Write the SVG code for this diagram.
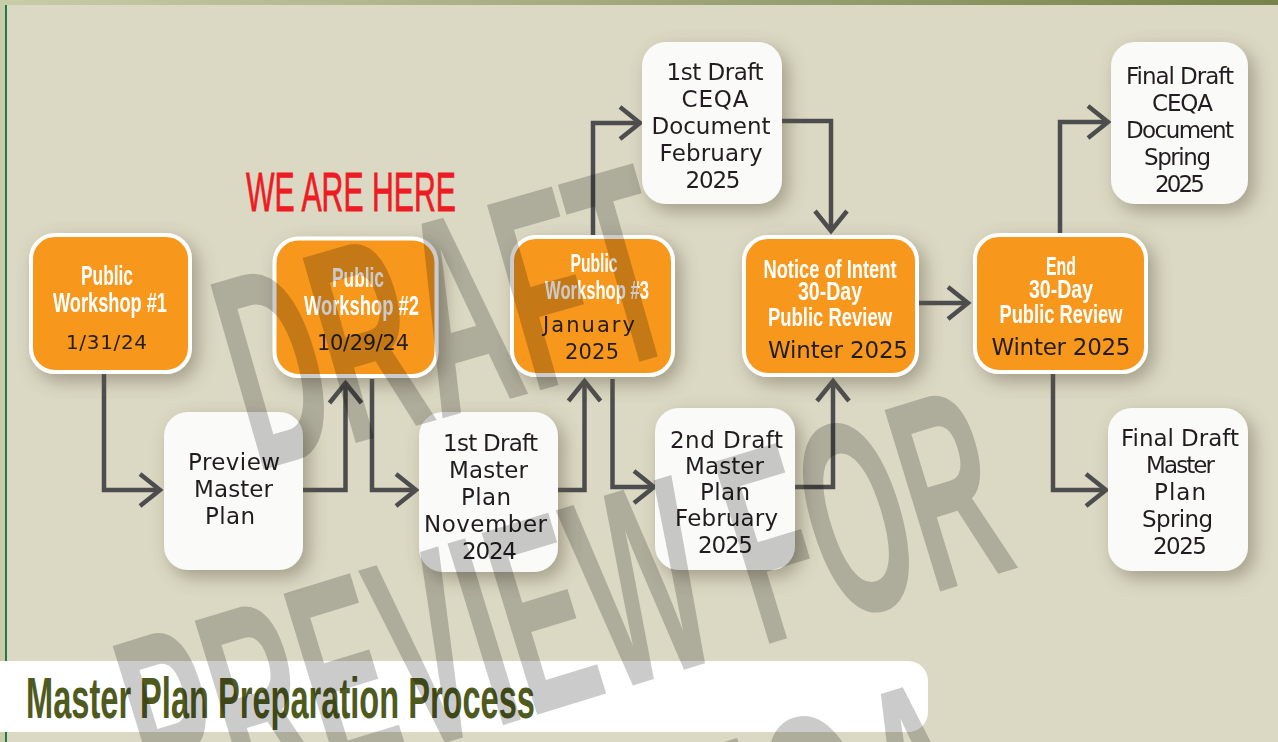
<svg xmlns="http://www.w3.org/2000/svg" width="1278" height="742" viewBox="0 0 1278 742">
<defs>
<linearGradient id="topbar" x1="0" y1="0" x2="1" y2="0">
<stop offset="0" stop-color="#c9cca9"/>
<stop offset="1" stop-color="#77834b"/>
</linearGradient>
<filter id="sh" x="-30%" y="-30%" width="160%" height="160%">
<feGaussianBlur in="SourceAlpha" stdDeviation="9"/>
<feOffset dx="6" dy="7" result="b"/>
<feFlood flood-color="#5c563f" flood-opacity="0.45"/>
<feComposite in2="b" operator="in"/>
<feMerge><feMergeNode/><feMergeNode in="SourceGraphic"/></feMerge>
</filter>
<marker id="arr" markerUnits="userSpaceOnUse" viewBox="-26 -22 32 44" refX="0" refY="0" markerWidth="32" markerHeight="44" orient="auto">
<path d="M-20,-16 L0,0 L-20,16" fill="none" stroke="#4d4d4f" stroke-width="4.5"/>
</marker>
<style>
.or{fill:#f7981f;stroke:#fff;stroke-width:4}
.wh{fill:#fafaf8}
.wt{font-family:"Liberation Sans Narrow","Liberation Sans",sans-serif;font-weight:bold;fill:#fff;text-anchor:middle}
.dk{font-family:"DejaVu Sans","Liberation Sans",sans-serif;fill:#231f20;text-anchor:middle}
.cn{fill:none;stroke:#4d4d4f;stroke-width:4.5;marker-end:url(#arr)}
.wm{font-family:"Liberation Sans Narrow","Liberation Sans",sans-serif;font-weight:bold;fill:#000}
</style>
</defs>
<rect x="0" y="0" width="1278" height="742" fill="#dbd8c3"/>
<rect x="0" y="0" width="1278" height="5" fill="url(#topbar)"/>
<rect x="0" y="5" width="5" height="737" fill="#cacca9"/>
<rect x="5" y="5" width="2" height="737" fill="#1e7a46"/>

<g id="connectors">
<path class="cn" d="M104,374 V490 H160"/>
<path class="cn" d="M303,490 H345.5 V383"/>
<path class="cn" d="M372,379 V490 H416"/>
<path class="cn" d="M558,490 H584.5 V381"/>
<path class="cn" d="M593,236 V123 H640"/>
<path class="cn" d="M612.5,379 V487 H654"/>
<path class="cn" d="M782,121 H831 V231"/>
<path class="cn" d="M795,487 H833 V381"/>
<path class="cn" d="M919,303 H968"/>
<path class="cn" d="M1060,234 V122 H1108"/>
<path class="cn" d="M1053,374 V490 H1106"/>
</g>

<g id="we-are-here">
<text x="246" y="211" font-family="'Liberation Sans Narrow','Liberation Sans',sans-serif" font-size="55" fill="#ed1c24" stroke="#ed1c24" stroke-width="0.8" textLength="210" lengthAdjust="spacingAndGlyphs">WE ARE HERE</text>
</g>

<g id="n-pw1" filter="url(#sh)">
<rect class="or" x="31" y="235" width="159" height="137" rx="24"/>
<text class="wt" font-size="28" x="107" y="285" textLength="52" lengthAdjust="spacingAndGlyphs">Public</text>
<text class="wt" font-size="28" x="110" y="312" textLength="114" lengthAdjust="spacingAndGlyphs">Workshop #1</text>
<text class="dk" font-size="20" x="106.5" y="349" textLength="81">1/31/24</text>
</g>

<g id="n-pw2" filter="url(#sh)">
<rect class="or" x="274.5" y="238.5" width="162" height="137.5" rx="24"/>
<text class="wt" font-size="28" x="358" y="287" textLength="52" lengthAdjust="spacingAndGlyphs">Public</text>
<text class="wt" font-size="28" x="361.5" y="315" textLength="115" lengthAdjust="spacingAndGlyphs">Workshop #2</text>
<text class="dk" font-size="21" x="363" y="350" textLength="92">10/29/24</text>
</g>

<g id="n-pw3" filter="url(#sh)">
<rect class="or" x="512" y="237" width="161" height="138" rx="24"/>
<text class="wt" font-size="26" x="594" y="272" textLength="47" lengthAdjust="spacingAndGlyphs">Public</text>
<text class="wt" font-size="26" x="597" y="299" textLength="104" lengthAdjust="spacingAndGlyphs">Workshop #3</text>
<text class="dk" font-size="21" x="589" y="332" textLength="92">January</text>
<text class="dk" font-size="21" x="592" y="359" textLength="54">2025</text>
</g>

<g id="n-notice" filter="url(#sh)">
<rect class="or" x="744" y="237" width="173" height="138" rx="24"/>
<text class="wt" font-size="25.5" x="830" y="278" textLength="133" lengthAdjust="spacingAndGlyphs">Notice of Intent</text>
<text class="wt" font-size="25.5" x="830" y="300" textLength="64" lengthAdjust="spacingAndGlyphs">30-Day</text>
<text class="wt" font-size="25.5" x="830" y="326" textLength="124" lengthAdjust="spacingAndGlyphs">Public Review</text>
<text class="dk" font-size="23" x="838" y="358" textLength="140">Winter 2025</text>
</g>

<g id="n-end" filter="url(#sh)">
<rect class="or" x="975" y="235" width="171" height="137" rx="24"/>
<text class="wt" font-size="26" x="1061" y="275" textLength="30" lengthAdjust="spacingAndGlyphs">End</text>
<text class="wt" font-size="26" x="1061" y="298" textLength="64" lengthAdjust="spacingAndGlyphs">30-Day</text>
<text class="wt" font-size="26" x="1061" y="323" textLength="123" lengthAdjust="spacingAndGlyphs">Public Review</text>
<text class="dk" font-size="23" x="1061" y="355" textLength="139">Winter 2025</text>
</g>

<g id="n-preview" filter="url(#sh)">
<rect class="wh" x="164" y="412" width="139" height="158" rx="24"/>
<text class="dk" font-size="23" x="234" y="470" textLength="92">Preview</text>
<text class="dk" font-size="23" x="233.5" y="497" textLength="79">Master</text>
<text class="dk" font-size="23" x="230" y="524" textLength="50">Plan</text>
</g>

<g id="n-draft1-mp" filter="url(#sh)">
<rect class="wh" x="419" y="412" width="139" height="160" rx="24"/>
<text class="dk" font-size="23" x="490.5" y="451" textLength="95">1st Draft</text>
<text class="dk" font-size="23" x="488.5" y="478" textLength="79">Master</text>
<text class="dk" font-size="23" x="486" y="505" textLength="50">Plan</text>
<text class="dk" font-size="23" x="485.5" y="532" textLength="123">November</text>
<text class="dk" font-size="23" x="489.5" y="559" textLength="55">2024</text>
</g>

<g id="n-draft2-mp" filter="url(#sh)">
<rect class="wh" x="655" y="408" width="140" height="162" rx="24"/>
<text class="dk" font-size="23" x="726.5" y="448" textLength="113">2nd Draft</text>
<text class="dk" font-size="23" x="724.5" y="474" textLength="79">Master</text>
<text class="dk" font-size="23" x="725" y="500" textLength="50">Plan</text>
<text class="dk" font-size="23" x="726.5" y="526" textLength="103">February</text>
<text class="dk" font-size="23" x="725.5" y="553" textLength="55">2025</text>
</g>

<g id="n-ceqa1" filter="url(#sh)">
<rect class="wh" x="642" y="42" width="140" height="162" rx="24"/>
<text class="dk" font-size="23" x="715" y="80" textLength="97">1st Draft</text>
<text class="dk" font-size="23" x="715" y="107" textLength="67">CEQA</text>
<text class="dk" font-size="23" x="711" y="134" textLength="119">Document</text>
<text class="dk" font-size="23" x="711" y="161" textLength="103">February</text>
<text class="dk" font-size="23" x="713" y="188" textLength="55">2025</text>
</g>

<g id="n-final-ceqa" filter="url(#sh)">
<rect class="wh" x="1111" y="42" width="137" height="162" rx="24"/>
<text class="dk" font-size="23" x="1180" y="84" textLength="108">Final Draft</text>
<text class="dk" font-size="23" x="1182.5" y="111" textLength="61">CEQA</text>
<text class="dk" font-size="23" x="1180" y="138" textLength="108">Document</text>
<text class="dk" font-size="23" x="1177.5" y="165" textLength="67">Spring</text>
<text class="dk" font-size="23" x="1180" y="192" textLength="50">2025</text>
</g>

<g id="n-final-mp" filter="url(#sh)">
<rect class="wh" x="1108" y="408" width="140" height="163" rx="24"/>
<text class="dk" font-size="23" x="1180" y="446" textLength="118">Final Draft</text>
<text class="dk" font-size="23" x="1180.5" y="473" textLength="69">Master</text>
<text class="dk" font-size="23" x="1180" y="500" textLength="52">Plan</text>
<text class="dk" font-size="23" x="1177.5" y="527" textLength="71">Spring</text>
<text class="dk" font-size="23" x="1180" y="554" textLength="54">2025</text>
</g>

<g id="title">
<rect x="-20" y="661" width="948" height="71" rx="20" fill="#ffffff"/>
<text x="26" y="718" font-family="'Liberation Sans Narrow','Liberation Sans',sans-serif" font-weight="bold" font-size="58" fill="#4f5a1e" textLength="509" lengthAdjust="spacingAndGlyphs">Master Plan Preparation Process</text>
</g>

<g id="watermark" opacity="0.2">
<text class="wm" font-size="280" textLength="450" lengthAdjust="spacingAndGlyphs" transform="translate(255,472) rotate(-16)">DRAFT</text>
<text class="wm" font-size="276" textLength="900" lengthAdjust="spacingAndGlyphs" transform="translate(160,830) rotate(-17)">PREVIEW FOR</text>
<text class="wm" font-size="276" textLength="390" lengthAdjust="spacingAndGlyphs" transform="translate(621,972) rotate(-17)">CEQA</text>
</g>
</svg>
